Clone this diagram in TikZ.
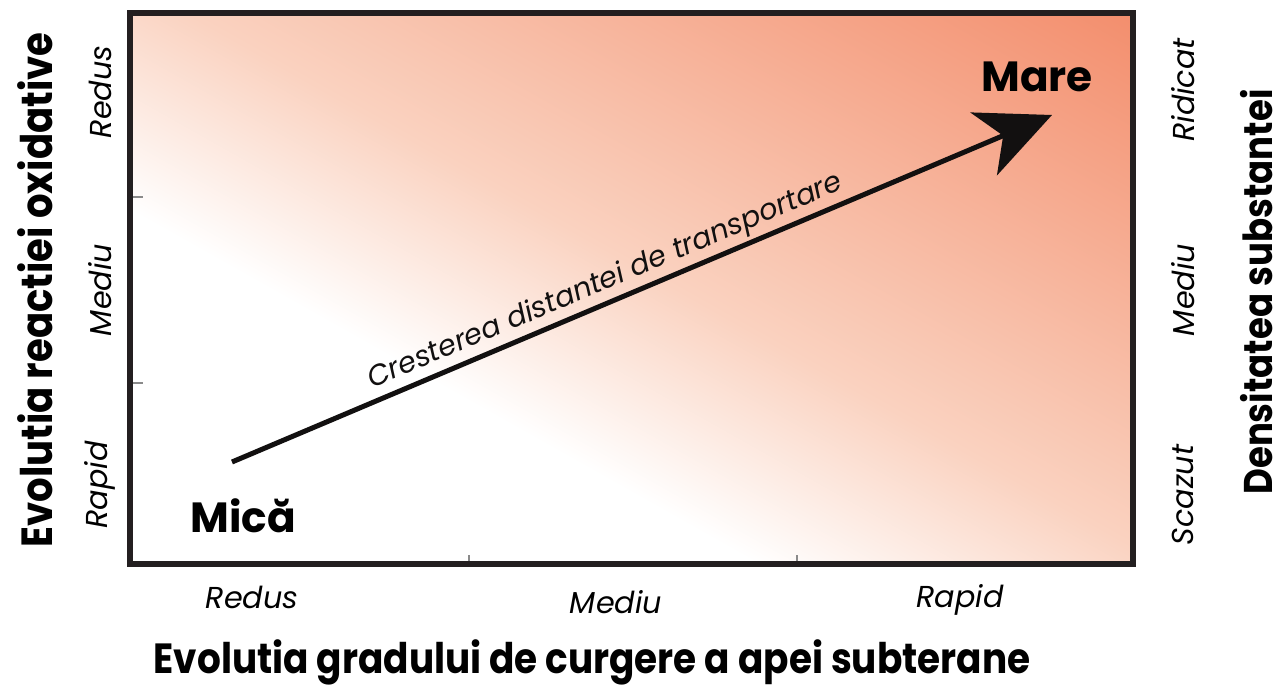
\documentclass[tikz,border=0pt]{standalone}
\usepackage{fontspec}
\setmainfont{Poppins}
\newfontfamily\narrowpoppins{Poppins}[FakeStretch=0.886]
\usetikzlibrary{arrows.meta, positioning, calc}
\definecolor{framegray}{HTML}{231F20}
\definecolor{tickgray}{HTML}{8A8A8A}
\definecolor{peachlight}{HTML}{FAD2C0}
\definecolor{salmon}{HTML}{F38E6D}
\pgfdeclarehorizontalshading{peach}{100bp}{color(0bp)=(white); color(41.68bp)=(white); color(46.7bp)=(peachlight); color(58.32bp)=(salmon); color(100bp)=(salmon)}

\begin{document}
\begin{tikzpicture}[x=0.01cm, y=0.01cm,
    scalelabel/.style={font=\fontsize{8.6}{10}\selectfont\itshape, inner sep=0pt},
    axistitle/.style={font=\narrowpoppins\fontsize{#1}{14}\selectfont\bfseries, inner sep=0pt},
    axistitle/.default=12,
    endlabel/.style={font=\fontsize{12}{14}\selectfont\bfseries, inner sep=0pt},
    ticklet/.style={tickgray, line width=0.4pt}]
  \useasboundingbox (0,0) rectangle (1285,688);

  \coordinate (sw) at (130,123.5);
  \coordinate (ne) at (1133,675);

  % BACKGROUND
  \begin{scope}
    \clip (sw) rectangle (ne);
    \shade[shading=peach, shading angle=60.6] (706,534) ++(-1000,-1000) rectangle ++(2000,2000);
  \end{scope}

  % TICKS
  \foreach \ty in {491,305} {
    \draw[ticklet] (130,\ty) -- (143,\ty);
  }
  \foreach \tx in {469,797} {
    \draw[ticklet] (\tx,123.5) -- (\tx,133);
  }

  \draw[framegray, line width=0.06cm] (sw) rectangle (ne);

  % SCALE LABELS
  \node[scalelabel, rotate=90] (leftredus) at (100,596) {Redus};
  \node[scalelabel, rotate=90] (leftmediu) at (100,398) {Mediu};
  \node[scalelabel, rotate=90] (leftrapid) at (100,203) {Rapid};

  \node[scalelabel, rotate=90] (rightridicat) at (1183,598) {Ridicat};
  \node[scalelabel, rotate=90] (rightmediu) at (1183,398) {Mediu};
  \node[scalelabel, rotate=90] (rightscazut) at (1183,193) {Scazut};

  \node[scalelabel] (bottomredus) at (252,91) {Redus};
  \node[scalelabel] (bottommediu) at (616,86) {Mediu};
  \node[scalelabel] (bottomrapid) at (960,88) {Rapid};

  % AXIS TITLES
  \node[axistitle=12.4, rotate=90] (lefttitle) at (35,398) {Evolutia reactiei oxidative};
  \node[axistitle=11.4, rotate=90] (righttitle) at (1257,396) {Densitatea substantei};
  \node[axistitle] (bottomtitle) at (592,26) {Evolutia gradului de curgere a apei subterane};

  % ARROW
  \node[endlabel] (mica) at (243,172) {Mică};
  \node[endlabel] (mare) at (1037,611) {Mare};

  \coordinate (arrowstart) at (232,226);
  \coordinate (arrowtip) at (1052,573);
  \draw[framegray!50!black, line width=0.05cm,
    -{Stealth[length=0.74cm, width=0.68cm, inset=0.21cm]}]
    (arrowstart) -- (arrowtip)
    node[scalelabel, font=\fontsize{8.2}{10}\selectfont\itshape, sloped, above=0.03cm, pos=0.465] (growth) {Cresterea distantei de transportare};

\end{tikzpicture}
\end{document}
